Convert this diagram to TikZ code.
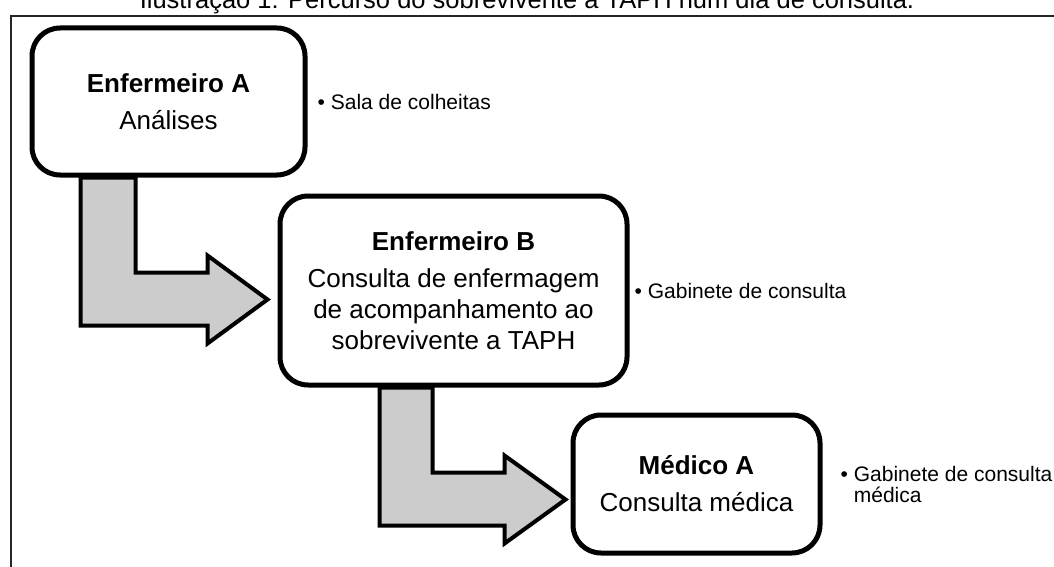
\documentclass[tikz,border=0pt]{standalone}
\usepackage{fontspec}
\setmainfont{Liberation Sans}
\usetikzlibrary{positioning}

\begin{document}
\begin{tikzpicture}[
    x=1pt, y=-1pt,
    font=\fontsize{26pt}{31pt}\selectfont
]
\tikzset{
    stepbox/.style = {draw=black, line width=5pt, rounded corners=28pt, fill=white, align=center, inner sep=0pt},
    placetext/.style = {align=left, inner sep=0pt, font=\fontsize{21pt}{21pt}\selectfont},
    bendarrow/.style = {draw=black, line width=4pt, fill=gray!40, line join=miter},
    framelines/.style = {line width=1.5pt, black!85}
}
\useasboundingbox (0,0) rectangle (1054,567);
% caption, cut by the top of the page
\node[inner sep=0pt, anchor=base, font=\fontsize{25.5pt}{27pt}\selectfont] at (527,9) (cap) {Ilustração 1: Percurso do sobrevivente a TAPH num dia de consulta.};
\draw[framelines] (11,567) -- (11,16) -- (1054,16);
\node[stepbox, minimum width=273pt, minimum height=147pt] at (168.5,101.5) (enfA) {\textbf{Enfermeiro A}\\[6pt]Análises};
\node[stepbox, minimum width=347pt, minimum height=189pt] at (453.5,290.5) (enfB) {\textbf{Enfermeiro B}\\[6pt]Consulta de enfermagem\\de acompanhamento ao\\sobrevivente a TAPH};
\node[stepbox, minimum width=247pt, minimum height=138pt] at (696.5,484) (medA) {\textbf{Médico A}\\[6pt]Consulta médica};
\node[placetext, right=10pt of enfA] (salaA) {•~Sala de colheitas};
\node[placetext, right=5pt of enfB] (gabB) {•~Gabinete de consulta};
\node[placetext, right=18pt of medA] (gabC) {•~Gabinete de consulta\\\phantom{•~}médica};
% bent arrows between the steps
\draw[bendarrow] ([xshift=51pt]enfA.south west) -- ++(0,148) -- ++(127,0) -- ++(0,18) -- ++(60,-44) -- ++(-60,-44) -- ++(0,17) -- ++(-72,0) -- ++(0,-95) -- cycle;
\draw[bendarrow] ([xshift=102pt]enfB.south west) -- ++(0,138) -- ++(125,0) -- ++(0,18) -- ++(61,-44) -- ++(-61,-44) -- ++(0,17) -- ++(-72,0) -- ++(0,-85) -- cycle;
\end{tikzpicture}
\end{document}
